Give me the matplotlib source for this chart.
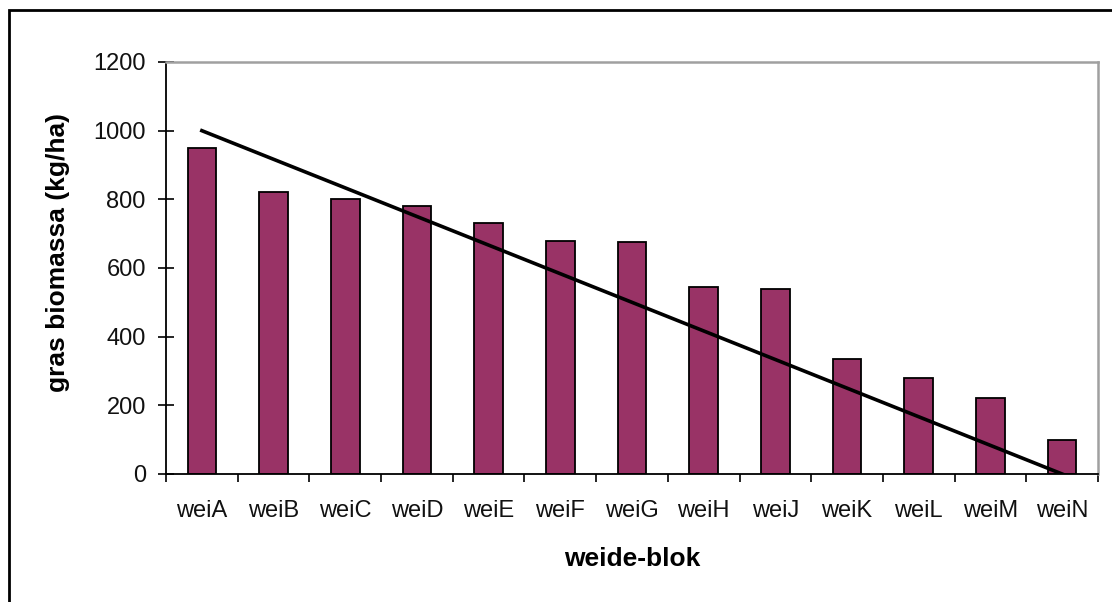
import numpy as np
import matplotlib.pyplot as plt
from matplotlib.patches import Rectangle

# ---------------------- data ----------------------
blocks = ["weiA", "weiB", "weiC", "weiD", "weiE", "weiF", "weiG",
          "weiH", "weiJ", "weiK", "weiL", "weiM", "weiN"]
biomass = [950, 820, 800, 780, 730, 680, 675, 545, 540, 335, 280, 220, 100]

# straight trend line drawn from the first to the last block
line_blocks = ["weiA", "weiN"]
line_values = [1000, 0]

yticks = [0, 200, 400, 600, 800, 1000, 1200]

# ---------------------- figure ----------------------
plt.rcParams['font.family'] = ['Liberation Sans', 'DejaVu Sans']

W, H = 1112, 602
fig = plt.figure(figsize=(W / 100, H / 100), dpi=100)
ax = fig.add_axes([166 / W, 1 - 474 / H, (1098 - 166) / W, (474 - 62) / H])

x = np.arange(len(blocks))
ax.bar(x, biomass, width=0.4, color="#993366", edgecolor="black", linewidth=1.3, zorder=2)

line_x = [blocks.index(b) for b in line_blocks]
ax.plot(line_x, line_values, color="black", linewidth=2.6, zorder=3)

ax.set_xlim(-0.5, len(blocks) - 0.5)
ax.set_ylim(0, 1200)

# category labels centred, ticks at the boundaries
ax.set_xticks(x)
ax.set_xticklabels(blocks, fontsize=17, color="#111111")
ax.set_xticks(np.arange(len(blocks) + 1) - 0.5, minor=True)
ax.tick_params(axis="x", which="major", length=0, pad=19)
ax.tick_params(axis="x", which="minor", direction="out", length=6, width=1.2, color="black")

ax.set_yticks(yticks)
ax.set_yticklabels([str(v) for v in yticks], fontsize=17, color="#111111")
ax.tick_params(axis="y", direction="inout", length=11, width=1.2, pad=9)

for side in ["top", "right"]:
    ax.spines[side].set_color("#a0a0a0")
    ax.spines[side].set_linewidth(1.8)
for side in ["left", "bottom"]:
    ax.spines[side].set_color("black")
    ax.spines[side].set_linewidth(1.3)

fig.text(632 / W, 1 - 559 / H, "weide-blok", fontsize=19, fontweight="bold",
         ha="center", va="center")
fig.text(58 / W, 1 - 253 / H, "gras biomassa (kg/ha)", fontsize=19, fontweight="bold",
         ha="center", va="center", rotation=90)

# outer chart border (only left and top are inside the picture)
fig.patches.append(Rectangle((9 / W, -0.1), 1.2, 1.1 - 10 / H, transform=fig.transFigure,
                             fill=False, edgecolor="black", linewidth=2))

fig.savefig("out.png", dpi=100)
